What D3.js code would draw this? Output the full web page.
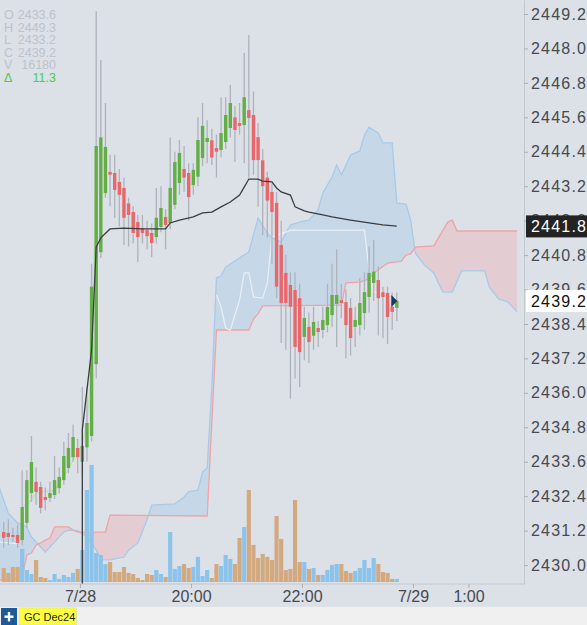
<!DOCTYPE html>
<html>
<head>
<meta charset="utf-8">
<script src="https://cdn.jsdelivr.net/npm/d3@7/dist/d3.min.js"></script>
<style>
  body { margin: 0; background: #dce0e7; }
  svg { display: block; font-family: "Liberation Sans", Arial, sans-serif; }
</style>
</head>
<body>
<div id="chart"></div>
<script>
// 5-minute bars, index 0 = first bar of the 7/28 session (18:00)
var firstBar = -17;

var opens = [
  2431.15, 2431.12, 2431.05, 2431.05, 2430.87, 2431.47, 2432.51, 2432.90, 2432.72, 2432.37,
  2432.34, 2432.44, 2432.68, 2432.96, 2433.38, 2433.76, 2434.08,
  2433.60, 2434.10, 2434.50, 2437.00, 2440.90, 2442.96, 2443.70, 2443.66, 2443.35, 2443.14,
  2442.60, 2442.30, 2441.95, 2441.74, 2441.67, 2441.57, 2441.43, 2441.78, 2442.13, 2441.92,
  2442.55, 2443.31, 2443.80, 2443.66, 2443.24, 2443.53, 2444.18, 2444.74, 2444.80, 2444.53,
  2444.46, 2444.74, 2445.23, 2445.60, 2445.40, 2445.33, 2445.85, 2445.68, 2444.91, 2444.10,
  2443.50, 2443.00, 2442.62, 2441.15, 2440.18, 2439.76, 2439.58, 2439.30, 2437.95, 2438.30,
  2437.99, 2438.26, 2438.19, 2438.36, 2438.71, 2439.10, 2439.23, 2439.16, 2438.96, 2438.30,
  2438.36, 2438.78, 2439.34, 2439.83, 2439.93, 2439.51, 2439.48, 2439.00, 2438.96
];
var highs = [
  2431.5, 2431.6, 2431.3, 2431.4, 2433.3, 2433.3, 2434.5, 2433.4, 2432.9, 2432.7,
  2432.9, 2433.8, 2433.4, 2434.3, 2434.6, 2434.9, 2434.4,
  2436.2, 2436.2, 2440.5, 2449.3, 2447.6, 2446.1, 2444.3, 2444.3, 2443.8, 2443.5,
  2442.8, 2442.5, 2442.2, 2442.2, 2442.0, 2441.9, 2443.14, 2443.2, 2442.4, 2444.9,
  2444.4, 2444.81, 2444.6, 2444.0, 2444.0, 2445.6, 2446.1, 2445.5, 2445.2, 2445.0,
  2446.3, 2446.3, 2446.73, 2446.0, 2446.1, 2447.84, 2448.47, 2446.5, 2445.4, 2444.5,
  2443.7, 2443.3, 2443.0, 2442.0, 2440.8, 2440.2, 2440.2, 2439.8, 2439.0, 2438.8,
  2439.0, 2438.5, 2439.0, 2439.8, 2440.5, 2441.0, 2439.8, 2439.6, 2439.3, 2439.0,
  2440.0, 2440.2, 2441.1, 2441.33, 2440.4, 2439.7, 2439.7, 2439.5, 2439.5
];
var lows = [
  2430.6, 2430.7, 2430.8, 2430.6, 2430.7, 2431.3, 2432.2, 2432.1, 2431.8, 2431.9,
  2432.2, 2432.3, 2432.5, 2432.8, 2433.2, 2433.6, 2433.2,
  2433.2, 2433.6, 2434.3, 2436.5, 2440.7, 2442.8, 2442.5, 2442.1, 2441.8, 2441.15,
  2441.1, 2441.2, 2440.56, 2441.2, 2441.0, 2440.73, 2441.2, 2441.6, 2441.0, 2441.7,
  2442.4, 2442.9, 2443.0, 2442.0, 2442.9, 2443.2, 2443.9, 2444.0, 2443.94, 2443.5,
  2444.2, 2444.5, 2444.9, 2444.04, 2445.0, 2444.0, 2443.5, 2443.6, 2442.48, 2441.5,
  2441.4, 2440.5, 2439.3, 2437.74, 2437.5, 2435.8, 2436.5, 2436.2, 2437.14, 2437.04,
  2437.5, 2437.6, 2437.9, 2438.1, 2438.3, 2437.6, 2438.6, 2437.2, 2437.3, 2437.6,
  2438.0, 2438.2, 2438.8, 2439.2, 2438.0, 2437.9, 2437.7, 2438.2, 2438.5
];
var closes = [
  2430.95, 2430.98, 2430.98, 2430.77, 2432.02, 2432.96, 2433.59, 2432.55, 2431.99, 2432.27,
  2432.51, 2432.96, 2433.07, 2433.80, 2434.08, 2434.46, 2433.76,
  2434.15, 2434.95, 2439.70, 2444.60, 2444.90, 2444.57, 2443.60, 2443.07, 2442.90, 2442.10,
  2442.20, 2441.57, 2441.43, 2441.57, 2441.46, 2441.22, 2442.10, 2442.44, 2441.85, 2443.14,
  2444.04, 2444.36, 2443.50, 2442.82, 2443.77, 2444.81, 2445.30, 2444.88, 2444.20, 2444.40,
  2445.05, 2445.68, 2446.10, 2445.16, 2445.30, 2446.30, 2445.58, 2444.11, 2444.11, 2443.20,
  2442.70, 2442.30, 2439.70, 2439.13, 2439.13, 2439.00, 2437.60, 2437.42, 2438.61, 2437.77,
  2438.47, 2438.12, 2438.54, 2438.99, 2439.41, 2439.41, 2439.13, 2438.36, 2437.91, 2438.54,
  2439.13, 2439.51, 2440.18, 2440.22, 2439.30, 2439.34, 2438.64, 2438.82, 2439.20
];
var volumes = [
  147, 95, 158, 158, 347, 126, 84, 231, 53, 42, 21, 84, 32, 74, 53, 95, 137,
  336, 966, 1229, 305, 284, 189, 210, 105, 105, 158, 95, 84, 42, 21, 84, 74, 126, 84, 53, 525,
  137, 168, 189, 147,
  158, 263, 63, 126, 42, 189, 168, 284, 242, 189, 462, 578, 966, 389, 252, 294, 263, 231,
  693, 452, 126, 137, 861, 210, 210, 137, 147, 74, 74, 126, 179, 189, 189, 116, 95, 116,
  147, 231, 147, 252, 189, 105, 95, 32, 32
];

// ichimoku cloud spans: [bar index, price]
var spanA = [
  [-18, 2432.72], [-16, 2431.81], [-14, 2431.47], [-12, 2431.33], [-11, 2430.98], [-9, 2430.63],
  [-8, 2430.45], [-7, 2430.63], [-5, 2430.98], [-4, 2431.15], [-3, 2431.22], [-1, 2431.20],
  [1, 2430.98], [3, 2430.52], [4, 2430.18], [6, 2430.18], [9, 2430.28], [10, 2430.52],
  [12, 2430.77], [14, 2431.57], [15, 2432.09], [20, 2432.13], [22, 2432.37], [23, 2432.55],
  [25, 2432.61], [26, 2433.24], [27, 2433.38], [28, 2436.20], [29, 2440.00], [30, 2440.07],
  [31, 2440.38], [32, 2440.49], [34, 2440.70], [36, 2440.91], [38, 2442.09], [40, 2441.57],
  [41, 2441.40], [43, 2441.26], [44, 2441.57], [45, 2441.85], [47, 2441.95], [49, 2442.02],
  [51, 2442.37], [52, 2442.96], [54, 2443.52], [55, 2443.94], [56, 2443.59], [57, 2443.94],
  [58, 2444.29], [60, 2444.43], [61, 2444.98], [62, 2445.26], [64, 2445.05], [65, 2444.71],
  [67, 2444.71], [68, 2442.61], [70, 2442.58], [71, 2442.02], [72, 2440.87], [74, 2440.45],
  [76, 2440.18], [77, 2439.83], [78, 2439.51], [80, 2439.51], [82, 2440.25], [87, 2440.25],
  [88, 2439.69], [90, 2439.27], [92, 2439.17], [94, 2438.82]
];
var spanB = [
  [-18, 2429.48], [-15, 2429.48], [-13, 2429.58], [-12, 2430.35], [-11, 2430.42], [-10, 2430.70],
  [-9, 2430.77], [-8, 2430.87], [-7, 2430.94], [-6, 2431.33], [-3, 2431.33], [-2, 2431.22],
  [-1, 2431.15], [5, 2431.15], [6, 2431.74], [27, 2431.71], [29, 2438.19], [36, 2438.19],
  [37, 2438.57], [38, 2438.75], [39, 2439.03], [56, 2439.06], [57, 2439.83], [60, 2439.86],
  [62, 2439.97], [63, 2440.18], [66, 2440.52], [69, 2440.59], [70, 2440.80], [71, 2440.84],
  [72, 2441.08], [76, 2441.12], [79, 2441.95], [80, 2442.02], [81, 2441.64], [94, 2441.64]
];
var vwap = [
  [0, 2428.0], [0, 2434.71], [2, 2437.49], [3, 2441.08], [4, 2441.40], [6, 2441.71], [9, 2441.74],
  [13, 2441.71], [18, 2441.71], [19, 2441.92], [21, 2442.02], [24, 2442.13], [26, 2442.27],
  [28, 2442.30], [30, 2442.48], [32, 2442.65], [34, 2442.89], [35, 2443.17], [36, 2443.45],
  [38, 2443.45], [39, 2443.38], [41, 2443.35], [42, 2443.14], [43, 2443.00], [45, 2442.89],
  [46, 2442.48], [48, 2442.34], [49, 2442.30], [52, 2442.20], [54, 2442.13], [58, 2442.02],
  [62, 2441.92], [65, 2441.85], [68, 2441.81]
];
var kijun = [
  [-18, 2430.80], [-14, 2430.75], [-13, null],
  [29, 2439.41], [30, 2438.99], [31, 2438.26], [32, 2438.19], [34, 2439.23], [35, 2440.18],
  [36, 2440.18], [37, 2439.34], [39, 2439.30], [40, 2439.83], [41, 2441.43], [44, 2441.60],
  [45, 2441.67], [61, 2441.67], [62, 2440.30], [63, 2439.50], [65, 2439.50], [66, 2439.30],
  [68, 2439.30]
];
var tenkan = [
  [-13, 2432.00], [-11, 2432.27], [-10, 2432.51], [-6, 2432.61], [-4, 2433.07], [-2, 2433.66],
  [-1, 2433.94], [0, 2434.18], [1, 2434.95], [2, 2436.80], [3, 2444.00]
];

var priceTicks = [2430.0, 2431.2, 2432.4, 2433.6, 2434.8, 2436.0, 2437.2, 2438.4, 2439.6,
  2440.8, 2442.0, 2443.2, 2444.4, 2445.6, 2446.8, 2448.0, 2449.2];
var timeTicks = [0, 120, 240, 360, 420];   // minutes after 7/28 18:00
var timeLabels = ["7/28", "20:00", "22:00", "7/29", "1:00"];
var headerKeys = ["O", "H", "L", "C", "V", "\u0394"];
var headerVals = ["2433.6", "2449.3", "2433.2", "2439.2", "16180", "11.3"];
var lastPrice = 2439.2;
var vwapLast = 2441.8;
var symbol = "GC Dec24";

var W = 587, H = 625, plotW = 524, plotH = 584, volBase = 582;

var svg = d3.select("#chart").append("svg")
    .attr("width", W)
    .attr("height", H);

svg.append("rect").attr("width", W).attr("height", H).attr("fill", "#dce0e7");

var x = d3.scaleLinear().domain([-86.5, 480]).range([0, plotW]);
var y = d3.scaleLinear().domain([2429.34, 2449.688]).range([plotH, 0]);
var yVol = d3.scaleLinear().domain([0, 1575]).range([volBase, volBase - 150]);

function barX(k) { return x(k * 5 + 2.5); }

var bars = opens.map(function(o, i) {
  return { k: firstBar + i, o: o, h: highs[i], l: lows[i], c: closes[i], v: volumes[i] };
});

var defs = svg.append("defs");
defs.append("clipPath").attr("id", "plotClip")
  .append("rect").attr("width", plotW).attr("height", plotH);

// areas used to split the cloud into blue / red parts
var above = function(pts) {
  return d3.area().x(function(d) { return barX(d[0]); }).y0(0).y1(function(d) { return y(d[1]); })(pts);
};
var below = function(pts) {
  return d3.area().x(function(d) { return barX(d[0]); }).y0(plotH).y1(function(d) { return y(d[1]); })(pts);
};
defs.append("clipPath").attr("id", "aboveB").append("path").attr("d", above(spanB));
defs.append("clipPath").attr("id", "aboveA").append("path").attr("d", above(spanA));

var plot = svg.append("g").attr("clip-path", "url(#plotClip)");

// cloud
plot.append("g").attr("clip-path", "url(#aboveB)")
  .append("path").attr("d", below(spanA)).attr("fill", "#b4cfe8").attr("fill-opacity", 0.55);
plot.append("g").attr("clip-path", "url(#aboveA)")
  .append("path").attr("d", below(spanB)).attr("fill", "#eab7bd").attr("fill-opacity", 0.5);

var line = d3.line()
  .defined(function(d) { return d[1] != null; })
  .x(function(d) { return barX(d[0]); })
  .y(function(d) { return y(d[1]); });

plot.append("path").attr("d", line(spanA)).attr("fill", "none")
  .attr("stroke", "#a6cbea").attr("stroke-width", 1.3);
plot.append("path").attr("d", line(spanB)).attr("fill", "none")
  .attr("stroke", "#f1a3a5").attr("stroke-width", 1.3);

// volume
plot.selectAll(".vol").data(bars).enter().append("rect")
  .attr("class", "vol")
  .attr("x", function(d) { return barX(d.k) - 2.1; })
  .attr("width", 4.2)
  .attr("y", function(d) { return yVol(d.v); })
  .attr("height", function(d) { return volBase - yVol(d.v); })
  .attr("fill", function(d) { return d.c >= d.o ? "#8cc3eb" : "#d3aa80"; });

// kijun / tenkan
plot.append("path").attr("d", line(kijun)).attr("fill", "none")
  .attr("stroke", "#f4f6f8").attr("stroke-opacity", 0.75).attr("stroke-width", 1.3);
plot.append("path").attr("d", line(tenkan)).attr("fill", "none")
  .attr("stroke", "#b9e2a9").attr("stroke-opacity", 0.85).attr("stroke-width", 1.3);

// candles
plot.selectAll(".wick").data(bars).enter().append("line")
  .attr("class", "wick")
  .attr("x1", function(d) { return barX(d.k); })
  .attr("x2", function(d) { return barX(d.k); })
  .attr("y1", function(d) { return y(d.h); })
  .attr("y2", function(d) { return y(d.l); })
  .attr("stroke", "#aeb3bb")
  .attr("stroke-width", 1.3);

plot.selectAll(".body").data(bars).enter().append("rect")
  .attr("class", "body")
  .attr("x", function(d) { return barX(d.k) - 1.7; })
  .attr("width", 3.4)
  .attr("y", function(d) { return y(Math.max(d.o, d.c)); })
  .attr("height", function(d) { return Math.max(1, Math.abs(y(d.o) - y(d.c))); })
  .attr("fill", function(d) { return d.c >= d.o ? "#64ae47" : "#e9676a"; });

// vwap
plot.append("path").attr("d", line(vwap)).attr("fill", "none")
  .attr("stroke", "#3b3d40").attr("stroke-width", 1.3);

// last bar marker
var last = bars[bars.length - 1];
var lx = barX(last.k), ly = y(lastPrice);
plot.append("path")
  .attr("d", "M" + (lx - 5.5) + "," + (ly - 6) + "L" + (lx + 0.5) + "," + ly + "L" + (lx - 5.5) + "," + (ly + 6) + "Z")
  .attr("fill", "#1b3a5c");

// axes
var yAxis = svg.append("g")
  .attr("transform", "translate(" + plotW + ",0)")
  .call(d3.axisRight(y).tickValues(priceTicks).tickFormat(d3.format(".1f")).tickSize(4).tickSizeOuter(0));
var xAxis = svg.append("g")
  .attr("transform", "translate(0," + plotH + ")")
  .call(d3.axisBottom(x).tickValues(timeTicks).tickFormat(function(d, i) { return timeLabels[i]; })
    .tickSize(4).tickSizeOuter(0));

[yAxis, xAxis].forEach(function(a) {
  a.select(".domain").attr("stroke", "#c4c8cf");
  a.selectAll(".tick line").attr("stroke", "#aab0b8");
  a.selectAll("text").attr("fill", "#474a4f").attr("font-size", 16)
    .attr("font-family", "Liberation Sans, Arial, sans-serif");
});
yAxis.selectAll("text").attr("letter-spacing", 1.2);
xAxis.select(".domain").attr("d", "M0,0H" + plotW);

// price labels on the axis
function priceTag(val, bg, fg) {
  var ty = y(val);
  svg.append("rect").attr("x", plotW + 2).attr("y", ty - 11).attr("width", W - plotW - 2).attr("height", 22)
    .attr("fill", bg);
  svg.append("text").attr("x", plotW + 7).attr("y", ty + 6).attr("fill", fg)
    .attr("font-size", 16).attr("letter-spacing", 1.2).text(d3.format(".1f")(val));
}
priceTag(vwapLast, "#232323", "#ffffff");
priceTag(lastPrice, "#ffffff", "#111111");

// header (OHLC of the session)
var hdr = svg.append("g").attr("font-size", 12.5);
headerKeys.forEach(function(k, i) {
  var col = i === 5 ? "#4fcb4a" : "#bcc3cd";
  hdr.append("text").attr("x", 4).attr("y", 19 + i * 12.6).attr("fill", col).text(k);
  hdr.append("text").attr("x", 56).attr("y", 19 + i * 12.6).attr("fill", col)
    .attr("text-anchor", "end").text(headerVals[i]);
});

// bottom tab strip
svg.append("rect").attr("x", 0).attr("y", 607).attr("width", W).attr("height", 18).attr("fill", "#f0f0f0");
svg.append("rect").attr("x", 1).attr("y", 608).attr("width", 16).attr("height", 17).attr("fill", "#1e5a96");
svg.append("rect").attr("x", 4.5).attr("y", 615.5).attr("width", 9).attr("height", 2.4).attr("fill", "#fff");
svg.append("rect").attr("x", 7.8).attr("y", 612).attr("width", 2.4).attr("height", 9.4).attr("fill", "#fff");
svg.append("rect").attr("x", 19.5).attr("y", 608).attr("width", 57).attr("height", 17)
  .attr("fill", "#ffff3d").attr("stroke", "#d9d98a").attr("stroke-width", 0.6);
svg.append("text").attr("x", 24).attr("y", 621).attr("font-size", 11).attr("fill", "#222").text(symbol);
</script>
</body>
</html>
